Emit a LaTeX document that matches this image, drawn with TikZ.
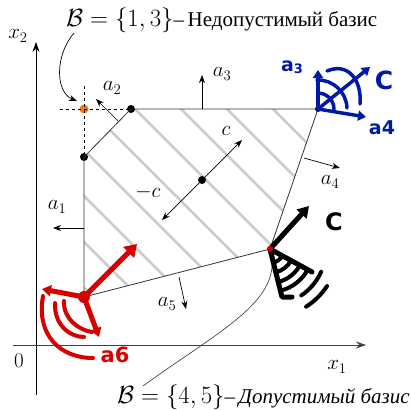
\RequirePackage{fix-cm}
\documentclass[tikz,border=0pt]{standalone}
\usepackage[no-math]{fontspec}
\setmainfont{Liberation Serif}
\newfontfamily\handfont{DejaVu Sans}
\usetikzlibrary{arrows.meta}
\definecolor{penred}{RGB}{214,0,0}
\definecolor{penblue}{RGB}{0,26,168}
\definecolor{dotorange}{RGB}{250,120,10}
\newcommand{\bigmath}[1]{{\fontsize{24.88}{28}\selectfont$#1$}}
\begin{document}
\begin{tikzpicture}[x=1pt,y=-1pt,
  every node/.style={font=\fontsize{21}{25}\selectfont, inner sep=0pt},
  edge/.style={black!80, line width=0.8pt},
  normal/.style={line width=0.7pt, -{Stealth[length=8pt,width=6pt]}},
  axis/.style={line width=0.7pt, -{Stealth[length=10pt,width=7pt]}},
  vdot/.style={circle, fill=black, minimum size=8pt, inner sep=0pt},
  hatch/.style={black!20, line width=2.6pt},
  redpen/.style={draw=penred, line width=5pt, line cap=round, line join=round},
  bluepen/.style={draw=penblue, line width=3.5pt, line cap=round, line join=round},
  blackpen/.style={draw=black, line width=5pt, line cap=round, line join=round},
  hand/.style={font=\handfont\bfseries\fontsize{21}{21}\selectfont},
]
\useasboundingbox (0,0) rectangle (410,410);
% hatching
\begin{scope}
  \clip (84,297) -- (84,157) -- (131,109) -- (318,109) -- (270,249) -- cycle;
  \foreach \k in {-6,...,5} { \draw[hatch] ({26+46*\k},0) -- ++(420,420); }
\end{scope}
% axes
\coordinate (yb) at (36,395); \coordinate (yt) at (36,42);
\coordinate (xl) at (13,345); \coordinate (xr) at (366,345);
\draw[axis] (yb) -- (yt);
\draw[axis, black!75] (xl) -- (xr);
\node (x2) at (18,36) {$x_2$};
\node (x1) at (337,367) {$x_1$};
\node (zero) at (19,361) {$0$};
% vertices
\coordinate (A) at (84,297);
\node[vdot] (B) at (84,157) {};
\node[vdot] (C) at (131,109) {};
\node[vdot, minimum size=6pt] (D) at (318,109) {};
\node[circle, fill=penred, minimum size=6pt] (E) at (270,249) {};
\node[circle, fill=dotorange, minimum size=9pt] (O) at (84,109) {};
\node[vdot] (M) at (202,180) {};
\draw[edge] (A) -- (B.center) -- (C.center) -- (D.center) -- (E.center) -- cycle;
% dashed
\coordinate (dl) at (60,109); \coordinate (dt) at (84,86);
\draw[line width=0.7pt, dash pattern=on 3pt off 3pt] (dl) -- (C);
\draw[line width=0.7pt, dash pattern=on 3pt off 3pt] (dt) -- (B);
% normals
\coordinate (n1a) at (84,228); \coordinate (n1b) at (53,228);
\coordinate (n2a) at (118,121); \coordinate (n2b) at (96,99);
\coordinate (n3a) at (202,109); \coordinate (n3b) at (202,75);
\coordinate (n4a) at (304,158); \coordinate (n4b) at (340,168);
\coordinate (n5a) at (179,277); \coordinate (n5b) at (186,309);
\draw[normal] (n1a) -- (n1b);
\draw[normal] (n2a) -- (n2b);
\draw[normal] (n3a) -- (n3b);
\draw[normal] (n4a) -- (n4b);
\draw[normal] (n5a) -- (n5b);
\node (la1) at (57,207) {$a_1$};
\node (la2) at (112,88) {$a_2$};
\node (la3) at (222,74) {$a_3$};
\node (la4) at (330,182) {$a_4$};
\node (la5) at (167,304) {$a_5$};
% c and -c
\coordinate (cp) at (242,140); \coordinate (cm) at (162,220);
\draw[normal] (M) -- (cp);
\draw[normal] (M) -- (cm);
\node (lc) at (226,131) {$c$};
\node (lmc) at (148,192) {$-c$};
% labels
\node[anchor=base west] (top) at (66,26) {\bigmath{\mathcal{B}=\{1,3\}}–\,Недопустимый базис};
\node[anchor=base west] (bot) at (117,403) {\bigmath{\mathcal{B}=\{4,5\}}–\,\textit{Допустимый базис}};
\coordinate (ts) at (74,33); \coordinate (te) at (77,101);
\draw[normal] (ts) .. controls (55,55) and (55,92) .. (te);
\coordinate (bs) at (143,386);
\draw[line width=0.6pt, black!80] (bs) .. controls (220,330) and (285,300) .. (E.center);
% red scribble
\coordinate (r1) at (137,244); \coordinate (r2) at (42,289); \coordinate (r3) at (99,337);
\draw[redpen, -{Triangle[length=12pt,width=15pt]}] (A) -- (r1);
\draw[redpen, -{Triangle[length=9pt,width=11pt]}] (A) -- (r2);
\draw[redpen, -{Triangle[length=9pt,width=11pt]}] (A) -- (r3);
\draw[redpen, line width=4pt] (64,301) .. controls (63,318) and (78,330) .. (92,332);
\draw[redpen, line width=4pt] (55,303) .. controls (54,325) and (70,337) .. (84,337);
\draw[redpen, line width=4pt] (43,296) .. controls (36,335) and (60,358) .. (93,358);
\fill[penred] (A) circle[radius=6];
\node[hand, text=penred] (la6) at (115,355) {a6};
% blue scribble
\coordinate (b1) at (318,70); \coordinate (b2) at (366,117); \coordinate (b3) at (370,67);
\draw[bluepen, -{Triangle[length=8pt,width=10pt]}] (D.center) -- (b1);
\draw[bluepen, -{Triangle[length=8pt,width=10pt]}] (D.center) -- (b2);
\draw[bluepen, -{Triangle[length=8pt,width=10pt]}] (D.center) -- (b3);
\draw[bluepen] ([shift={(-90:16)}]D.center) arc[start angle=-90, end angle=2, radius=16];
\draw[bluepen] ([shift={(-92:29)}]D.center) arc[start angle=-92, end angle=-2, radius=29];
\draw[bluepen] (327,71) .. controls (348,62) and (362,80) .. (360,104);
\node[hand, text=penblue, font=\handfont\bfseries\fontsize{19}{19}\selectfont] (lb3) at (292,67) {a\raisebox{-2pt}{\fontsize{13}{13}\selectfont 3}};
\node[hand, text=penblue, font=\handfont\bfseries\fontsize{19}{19}\selectfont] (lb4) at (382,128) {a4};
\node[hand, text=penblue, font=\handfont\bfseries\fontsize{25}{25}\selectfont] (lbc) at (384,80) {C};
% black scribble
\coordinate (k1) at (309,206); \coordinate (k2) at (282,297); \coordinate (k3) at (312,272); \coordinate (k4) at (292,297);
\draw[blackpen, -{Triangle[length=11pt,width=13pt]}] (E.center) -- (k1);
\draw[blackpen] (k4) -- (k2) -- (E.center) -- (k3);
\draw[blackpen, line width=4pt] ([shift={(76:14)}]E.center) arc[start angle=76, end angle=30, radius=14];
\draw[blackpen, line width=4pt] ([shift={(76:24)}]E.center) arc[start angle=76, end angle=30, radius=24];
\draw[blackpen, line width=4pt] ([shift={(76:34)}]E.center) arc[start angle=76, end angle=30, radius=34];
\draw[blackpen, line width=4pt] ([shift={(76:43)}]E.center) arc[start angle=76, end angle=30, radius=43];
\draw[blackpen, line width=4pt] ([shift={(24:56)}]E.center) arc[start angle=24, end angle=56, radius=56];
\draw[blackpen, line width=4pt] ([shift={(33:68)}]E.center) arc[start angle=33, end angle=58, radius=68];
\fill[penred] (E) circle[radius=3];
\node[hand, font=\handfont\bfseries\fontsize{24}{24}\selectfont] (lkc) at (334,222) {C};
\end{tikzpicture}
\end{document}
